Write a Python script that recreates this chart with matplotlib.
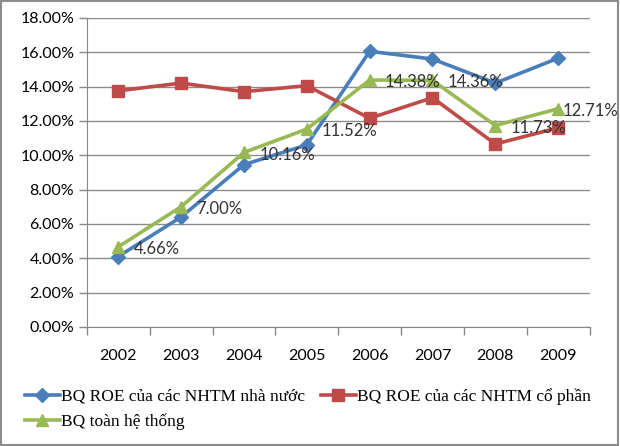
import matplotlib
matplotlib.use('Agg')
from matplotlib import pyplot as plt
from matplotlib.patches import Rectangle
from numpy import arange

# dữ liệu
years = ['2002', '2003', '2004', '2005', '2006', '2007', '2008', '2009']
roe_state = [4.10, 6.40, 9.45, 10.60, 16.05, 15.60, 14.20, 15.65]
roe_joint = [13.75, 14.20, 13.70, 14.05, 12.15, 13.35, 10.65, 11.60]
roe_total = [4.66, 7.00, 10.16, 11.52, 14.38, 14.36, 11.73, 12.71]

names = ['BQ ROE của các NHTM nhà nước',
         'BQ ROE của các NHTM cổ phần',
         'BQ toàn hệ thống']

c_blue = '#4A7EBB'
c_red = '#BE4B48'
c_green = '#98B954'

fig = plt.figure(figsize=(6.2, 4.46), dpi=100)
ax = fig.add_axes([0.140, 0.267, 0.811, 0.693])

x = arange(len(years))
l1, = ax.plot(x, roe_state, color=c_blue, lw=2.6, marker='D', ms=7, label=names[0])
l2, = ax.plot(x, roe_joint, color=c_red, lw=2.6, marker='s', ms=9, label=names[1])
l3, = ax.plot(x, roe_total, color=c_green, lw=2.6, marker='^', ms=9, label=names[2])

# nhãn dữ liệu (nhãn cuối bị Excel đẩy sát vào điểm cho vừa khung)
for xi, v in zip(x, roe_total):
    dx = 3 if xi == x[-1] else 11
    ax.annotate(f'{v:.2f}%', (xi, v), xytext=(dx, -1.5), textcoords='offset points',
                ha='left', va='center', fontsize=12, color='#333333', family='Lato',
                annotation_clip=False)

ax.set_xlim(-0.5, len(years) - 0.5)
ax.set_ylim(0, 18)
ax.set_yticks(arange(0, 18.1, 2))
ax.set_yticklabels([f'{v:.2f}%' for v in arange(0, 18.1, 2)], family='Lato', fontsize=11.5)
ax.set_xticks(x)
ax.set_xticklabels(years, family='Lato', fontsize=11.5)
ax.set_xticks(arange(-0.5, len(years)), minor=True)
ax.tick_params(axis='x', which='major', length=0, pad=16)
ax.tick_params(axis='x', which='minor', length=6, color='#888888', width=1, direction='out')
ax.tick_params(axis='y', length=6, color='#888888', width=1, direction='out', pad=3)
ax.grid(axis='y', color='#8c8c8c', lw=1)
ax.set_axisbelow(True)
for s in ['top', 'right']:
    ax.spines[s].set_visible(False)
ax.spines['left'].set_color('#888888')
ax.spines['bottom'].set_color('#888888')

fig.legend([l1, l3, l2], [names[0], names[2], names[1]], ncol=2,
           loc='upper left', bbox_to_anchor=(0.04, 0.130), frameon=False,
           prop={'family': 'Liberation Serif', 'size': 12.5},
           handlelength=2.0, handletextpad=0.1, columnspacing=0.9,
           labelspacing=0.5, borderaxespad=0, borderpad=0)

fig.patches.append(Rectangle((0.002, 0.003), 0.995, 0.994, transform=fig.transFigure,
                             fill=False, edgecolor='#8c8c8c', lw=1.5))

fig.savefig('out.png', dpi=100)
